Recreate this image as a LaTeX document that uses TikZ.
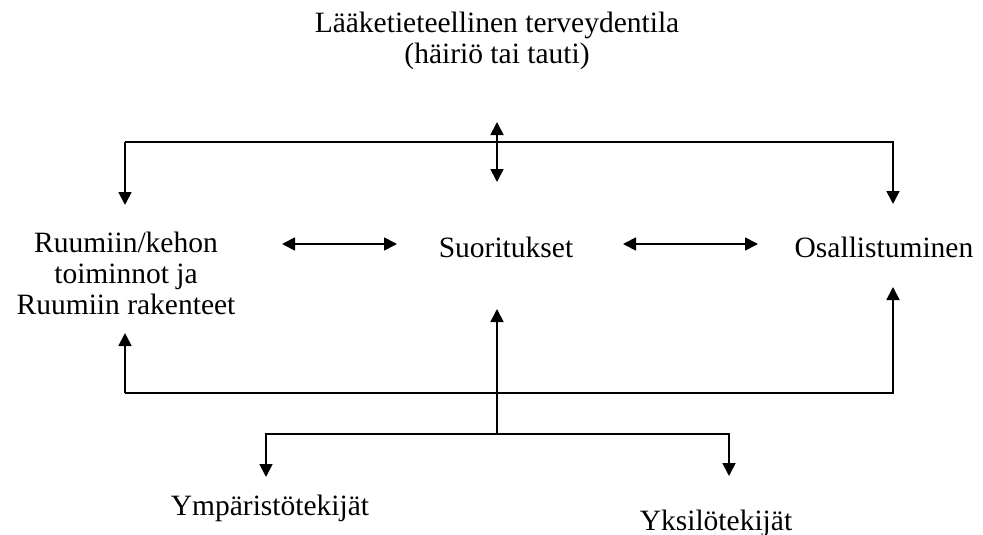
\documentclass[tikz,border=0pt]{standalone}
\usepackage{fontspec}
\setmainfont{Liberation Serif}
\usetikzlibrary{arrows.meta}
\begin{document}
\begin{tikzpicture}[x=1pt,y=-1pt,
  lbl/.style={font=\fontsize{29.5}{31}\selectfont, inner sep=0pt, align=center},
  ln/.style={line width=1.8pt},
  arr/.style={ln, -{Triangle[width=13pt,length=13pt]}},
  darr/.style={ln, {Triangle[width=13pt,length=13pt]}-{Triangle[width=13pt,length=13pt]}}]
\useasboundingbox (0,0) rectangle (983,535);
% texts
\node[lbl, anchor=base] (title) at (497,33) {Lääketieteellinen terveydentila};
\node[lbl, anchor=base] (title2) at (497,64) {(häiriö tai tauti)};
\node[lbl, anchor=base] (body1) at (126,252) {Ruumiin/kehon};
\node[lbl, anchor=base] (body2) at (126,283) {toiminnot ja};
\node[lbl, anchor=base] (body3) at (126,314) {Ruumiin rakenteet};
\node[lbl, anchor=base] (act) at (506,257) {Suoritukset};
\node[lbl, anchor=base] (part) at (884,257) {Osallistuminen};
\node[lbl, anchor=base] (env) at (270,515) {Ympäristötekijät};
\node[lbl, anchor=base] (pers) at (716,530) {Yksilötekijät};
% coordinates
\coordinate (tTop) at (497,122);
\coordinate (tBot) at (497,182);
\coordinate (tL) at (125,142);
\coordinate (tR) at (893,142);
\coordinate (tLtip) at (125,205);
\coordinate (tRtip) at (893,204);
\coordinate (h1a) at (282,244);
\coordinate (h1b) at (397,244);
\coordinate (h2a) at (623,244);
\coordinate (h2b) at (758,244);
\coordinate (bL) at (125,393);
\coordinate (bR) at (893,393);
\coordinate (bLtip) at (125,333);
\coordinate (bRtip) at (893,287);
\coordinate (cBot) at (497,434);
\coordinate (cTip) at (497,309);
\coordinate (lL) at (266,434);
\coordinate (lR) at (729,434);
\coordinate (lLtip) at (266,477);
\coordinate (lRtip) at (729,476);
% connectors
\draw[darr] (tTop) -- (tBot);
\draw[arr] (tLtip |- tL) -- (tL) -- (tR) -- (tRtip);
\draw[arr] (tL) -- (tLtip);
\draw[darr] (h1a) -- (h1b);
\draw[darr] (h2a) -- (h2b);
\draw[arr] (bL) -- (bLtip);
\draw[arr] (bL) -- (bR) -- (bRtip);
\draw[arr] (cBot) -- (cTip);
\draw[arr] (cBot) -- (lL) -- (lLtip);
\draw[arr] (cBot) -- (lR) -- (lRtip);
\end{tikzpicture}
\end{document}
